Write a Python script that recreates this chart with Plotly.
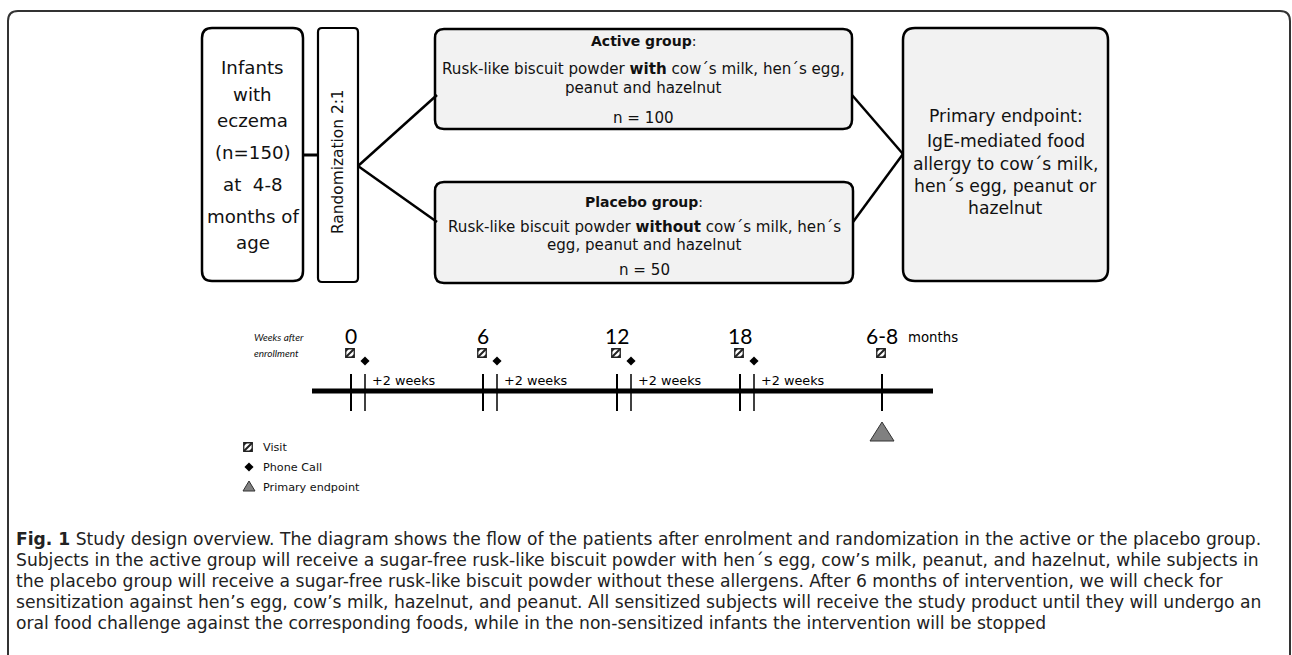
import plotly.graph_objects as go

# ---------------- content ----------------
infant_lines = ["Infants", "with", "eczema", "(n=150)", "at  4-8", "months of", "age"]
random_label = "Randomization 2:1"
active_lines = ["<b>Active group</b>:",
                "Rusk-like biscuit powder <b>with</b> cow´s milk, hen´s egg,",
                "peanut and hazelnut",
                "n = 100"]
placebo_lines = ["<b>Placebo group</b>:",
                 "Rusk-like biscuit powder <b>without</b> cow´s milk, hen´s",
                 "egg, peanut and hazelnut",
                 "n = 50"]
endpoint_lines = ["Primary endpoint:", "IgE-mediated food", "allergy to cow´s milk,",
                  "hen´s egg, peanut or", "hazelnut"]
visit_labels = ["0", "6", "12", "18", "6-8"]
interval_label = "+2 weeks"
legend_labels = ["Visit", "Phone Call", "Primary endpoint"]
caption_lines = [
    "<b>Fig. 1</b> Study design overview. The diagram shows the flow of the patients after enrolment and randomization in the active or the placebo group.",
    "Subjects in the active group will receive a sugar-free rusk-like biscuit powder with hen´s egg, cow’s milk, peanut, and hazelnut, while subjects in",
    "the placebo group will receive a sugar-free rusk-like biscuit powder without these allergens. After 6 months of intervention, we will check for",
    "sensitization against hen’s egg, cow’s milk, hazelnut, and peanut. All sensitized subjects will receive the study product until they will undergo an",
    "oral food challenge against the corresponding foods, while in the non-sensitized infants the intervention will be stopped",
]

# ---------------- layout geometry (pixel space) ----------------
W, H = 1292, 655
FONT = "DejaVu Sans"
NUM_FONT = "Lato"
CAP_FONT = "DejaVu Sans"
INK = "#111111"

visit_x = [351, 483, 617, 740, 882]
call_x = [365, 497, 631, 754]

shapes = []
annotations = []


def rrect(x0, y0, x1, y1, r, fill="white", lw=2.5):
    p = (f"M{x0+r},{y0} L{x1-r},{y0} Q{x1},{y0} {x1},{y0+r} L{x1},{y1-r} "
         f"Q{x1},{y1} {x1-r},{y1} L{x0+r},{y1} Q{x0},{y1} {x0},{y1-r} "
         f"L{x0},{y0+r} Q{x0},{y0} {x0+r},{y0} Z")
    shapes.append(dict(type="path", path=p, xref="x", yref="y",
                       line=dict(color="black", width=lw), fillcolor=fill, layer="below"))


def line(x0, y0, x1, y1, w=2.5, color="black"):
    shapes.append(dict(type="line", x0=x0, y0=y0, x1=x1, y1=y1, xref="x", yref="y",
                       line=dict(color=color, width=w)))


def text(x, y, s, size, xanchor="center", color=INK, family=FONT, angle=0):
    annotations.append(dict(x=x, y=y, xref="x", yref="y", text=s, showarrow=False,
                            xanchor=xanchor, yanchor="middle", textangle=angle,
                            borderpad=0,
                            font=dict(family=family, size=size, color=color)))


def visit_icon(cx, cy, s=8.5):
    h = s / 2
    shapes.append(dict(type="rect", x0=cx-h, y0=cy-h, x1=cx+h, y1=cy+h, xref="x", yref="y",
                       line=dict(color="#222", width=1.3), fillcolor="white"))
    shapes.append(dict(type="path", xref="x", yref="y",
                       path=f"M{cx-h},{cy-h} L{cx-h+3.5},{cy-h} L{cx-h},{cy-h+3.5} Z",
                       fillcolor="#222", line=dict(width=0)))
    shapes.append(dict(type="path", xref="x", yref="y",
                       path=f"M{cx+h},{cy+h} L{cx+h-3.5},{cy+h} L{cx+h},{cy+h-3.5} Z",
                       fillcolor="#222", line=dict(width=0)))
    line(cx-h, cy+h, cx+h, cy-h, w=2, color="#222")


# outer frame (rounded top corners, open bottom)
shapes.append(dict(type="path", xref="x", yref="y",
                   path="M8,670 L8,21 Q8,11 18,11 L1280,11 Q1290,11 1290,21 L1290,670",
                   line=dict(color="#333", width=2)))

# boxes
rrect(202, 28, 303, 281, 10)
rrect(318, 28, 358, 282, 4, lw=2.2)
rrect(435, 29, 852, 129, 9, fill="#f2f2f2")
rrect(435, 182, 853, 283, 9, fill="#f2f2f2")
rrect(903, 28, 1108, 281, 12, fill="#f2f2f2")

# connectors
line(303, 155, 318, 155, w=3)
line(358, 166, 437, 95)
line(358, 166, 437, 222)
line(852, 95, 903, 154)
line(853, 222, 903, 154)

# box texts
for s, y in zip(infant_lines, [67, 94, 120, 152, 184, 216, 242]):
    text(252.5, y, s, 18.2)
text(338, 162, random_label, 15.4, angle=-90)
for s, y, sz in zip(active_lines, [41, 69, 88, 118], [14, 15.1, 15.1, 15.1]):
    text(643.5, y, s, sz)
for s, y, sz in zip(placebo_lines, [202, 227, 245, 270], [14, 15.1, 15.1, 15.1]):
    text(644, y, s, sz)
for s, y in zip(endpoint_lines, [116, 141, 164, 186, 208]):
    text(1005.5, y, s, 17.2)

# timeline
line(312, 391, 933, 391, w=5)
for x in visit_x:
    line(x, 374, x, 411, w=2)
for x in call_x:
    line(x, 374, x, 411, w=1.5)
for x, s in zip(visit_x, visit_labels):
    text(x, 335, s, 21, color="black", family=NUM_FONT)
    visit_icon(x - 1, 353)
text(907, 337, "months", 13.3, xanchor="left", color="black")
for x in call_x:
    text(x + 6, 380, interval_label, 12.8, xanchor="left", color="black")
text(253, 337, "<i>Weeks after</i>", 10, xanchor="left", family=NUM_FONT)
text(253, 353, "<i>enrollment</i>", 10, xanchor="left", family=NUM_FONT)

# endpoint triangle
shapes.append(dict(type="path", xref="x", yref="y", path="M870,441 L894,441 L882,422 Z",
                   fillcolor="#808080", line=dict(color="#333", width=1)))

# legend
visit_icon(248, 447)
shapes.append(dict(type="path", xref="x", yref="y", path="M243,491 L255,491 L249,481 Z",
                   fillcolor="#808080", line=dict(color="#333", width=1)))
for s, y in zip(legend_labels, [447, 467, 487]):
    text(262, y, s, 11.2, xanchor="left")

# caption
for i, s in enumerate(caption_lines):
    text(15, 539 + 21 * i, s, 17.15, xanchor="left", color="#222", family=CAP_FONT)

fig = go.Figure()
# phone-call diamonds (timeline + legend)
fig.add_trace(go.Scatter(x=call_x + [249], y=[361] * len(call_x) + [467], mode="markers",
                         marker=dict(symbol="diamond", size=7, color="black"),
                         hoverinfo="skip", showlegend=False))

fig.update_layout(
    width=W, height=H, margin=dict(l=0, r=0, t=0, b=0),
    paper_bgcolor="white", plot_bgcolor="white",
    xaxis=dict(range=[0, W], visible=False, fixedrange=True),
    yaxis=dict(range=[H, 0], visible=False, fixedrange=True),
    shapes=shapes, annotations=annotations, showlegend=False,
)
fig.write_html("out.html", config={"displayModeBar": False},
               post_script="document.body.style.margin='0';document.body.style.overflow='hidden';")
